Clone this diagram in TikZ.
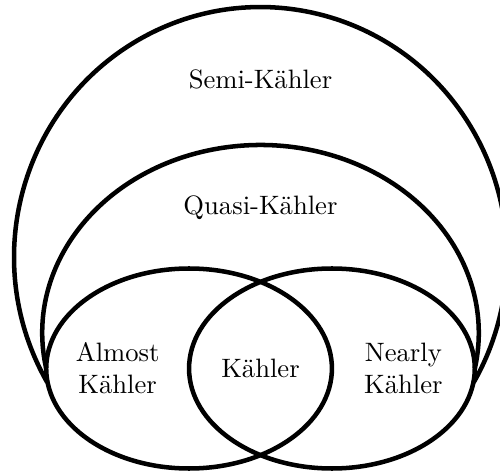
\documentclass[tikz,border=0pt]{standalone}
\usepackage{amsmath,amssymb}
\usepackage{tikz}
\tikzset{vennlabel/.style={align=center, font=\fontsize{10.6}{12.7}\selectfont}}

\begin{document}
\begin{tikzpicture}[line width=1.8pt]
    \useasboundingbox (-3.647,-1.435) rectangle (3.353,5.159);
    \begin{scope}
\draw[draw=black] (-2.985,-0.195) arc[start angle=210.1, end angle=-30.1, x radius=3.45, y radius=3.5];
\draw[draw=black] (-3,0) arc[start angle=190.95, end angle=-10.95, x radius=3.056, y radius=2.63];
\draw[draw=black] (-1,0) ellipse[x radius=2, y radius=1.4];
\draw[draw=black] (1,0) ellipse[x radius=2, y radius=1.4];
\node[vennlabel] (semi) at (0,4.05) {Semi-K\"ahler};
\node[vennlabel] (quasi) at (0,2.25) {Quasi-K\"ahler};
\node[vennlabel] (almost) at (-2,0) {Almost\\K\"ahler};
\node[vennlabel] (kahler) at (0,0) {K\"ahler};
\node[vennlabel] (nearly) at (2,0) {Nearly\\K\"ahler};
    \end{scope}
\end{tikzpicture}
\end{document}
